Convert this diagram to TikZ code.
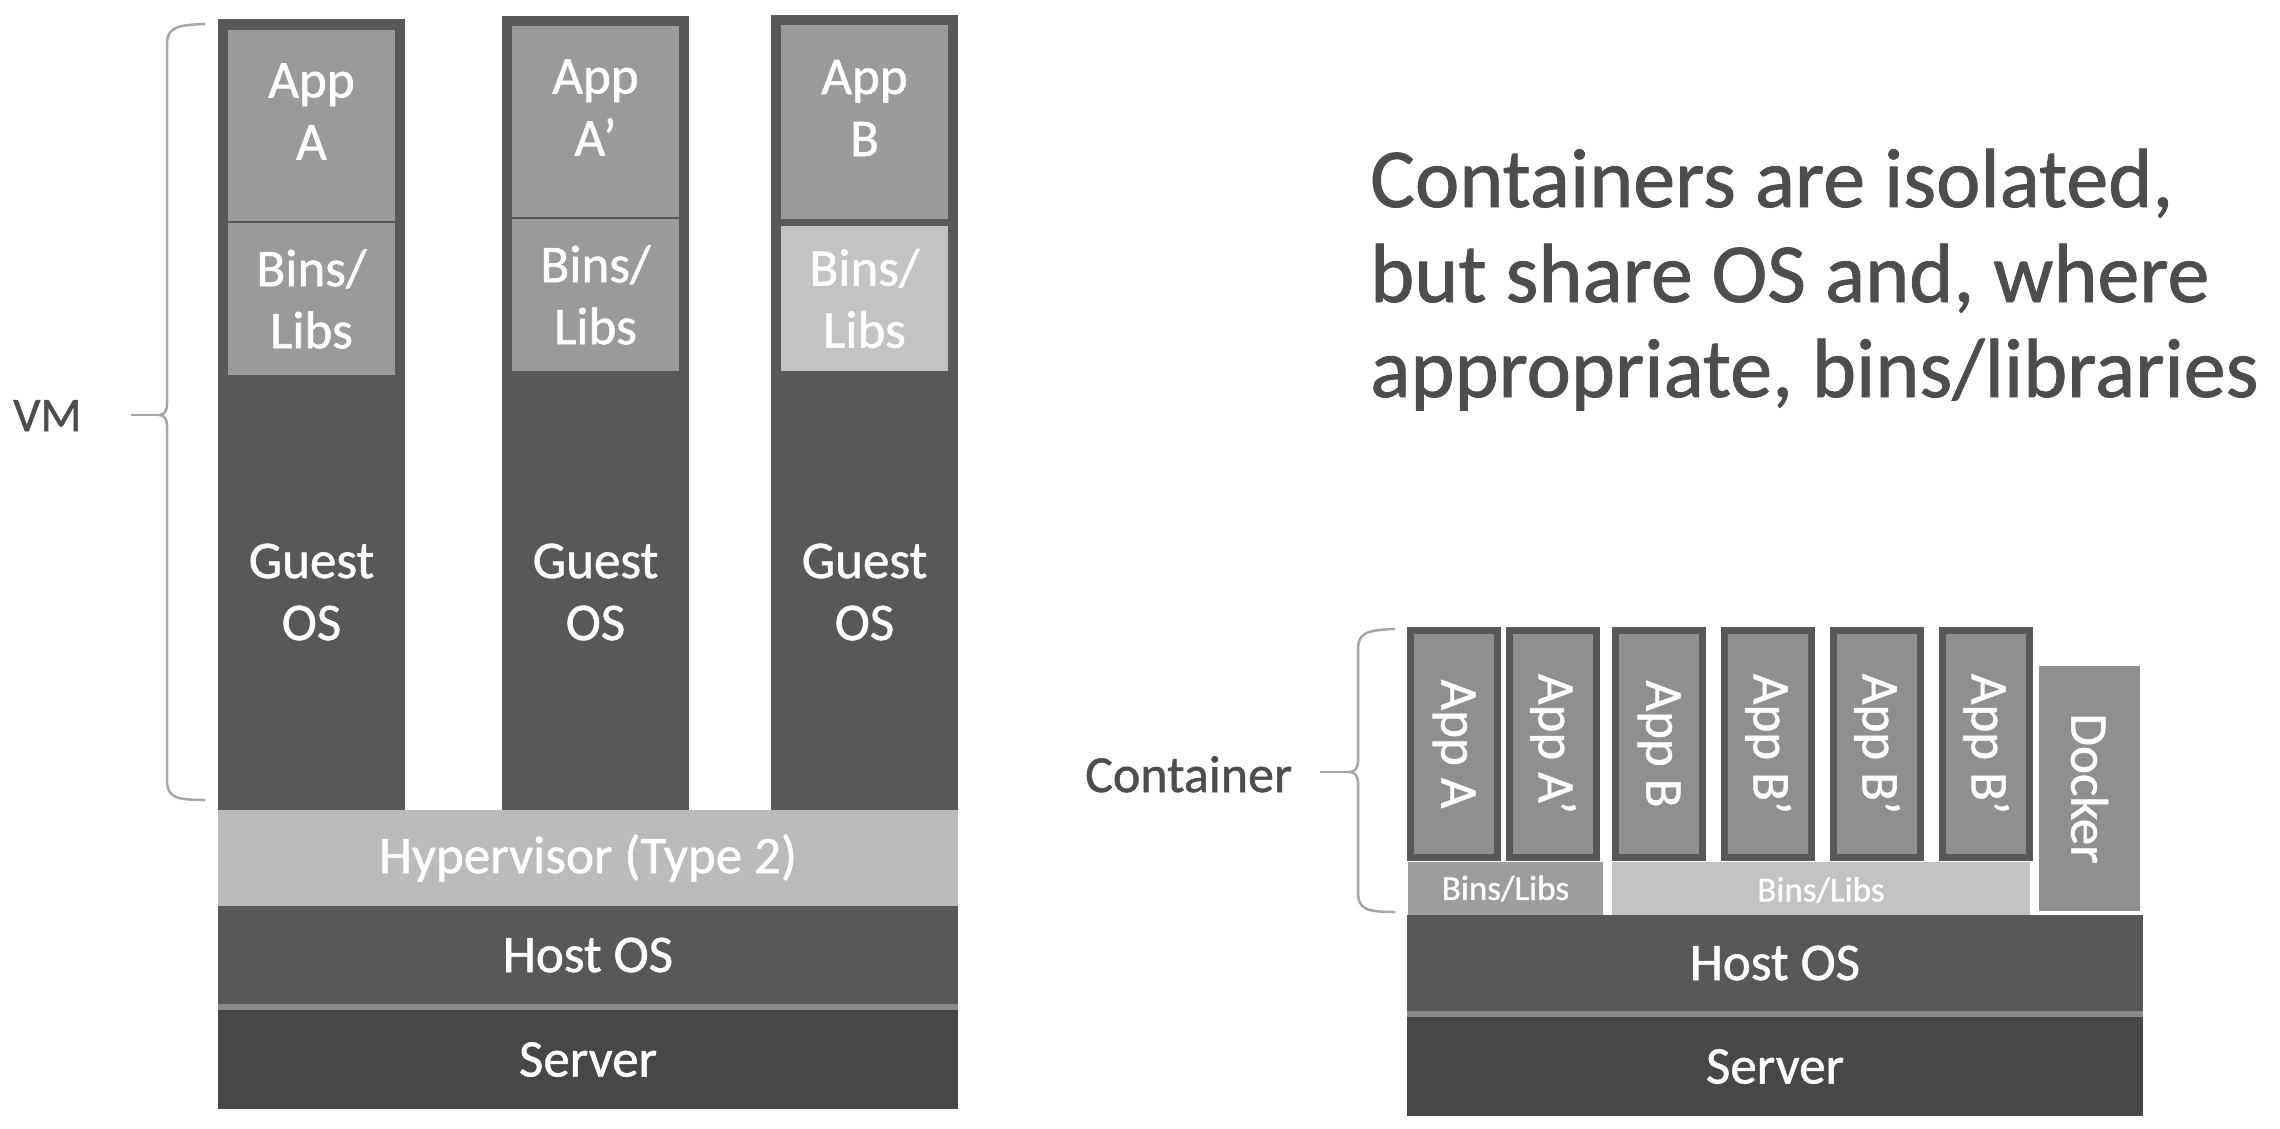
\documentclass[tikz,border=0pt]{standalone}
\usepackage{fontspec}
\setmainfont{Carlito}[FakeBold=1]

\definecolor{osgray}{HTML}{585858}
\definecolor{srvgray}{HTML}{474747}
\definecolor{appgray}{HTML}{9A9A9A}
\definecolor{libgray}{HTML}{C3C3C3}
\definecolor{hypgray}{HTML}{BBBBBB}
\definecolor{appmid}{HTML}{8F8F8F}
\definecolor{bingray}{HTML}{9D9D9D}
\definecolor{sepgray}{HTML}{8A8A8A}
\definecolor{msggray}{HTML}{4D4D4D}
\definecolor{bracegray}{HTML}{A6A6A6}

\newcommand\lblfont{\fontsize{53}{62}\selectfont}
\newcommand\msgfont{\fontsize{84}{95}\selectfont}

\tikzset{
    blk/.style={inner sep=0pt, outer sep=0pt, text=white, font=\lblfont, align=center},
    layer/.style={blk, anchor=north west},
    capp/.style={blk, rotate=-90, draw=osgray, line width=7, fill=appmid, minimum width=227, minimum height=87},
    brc/.style={draw=bracegray, line width=2.5},
    side/.style={anchor=base west, text=msggray, inner sep=0pt}
}

\begin{document}
\begin{tikzpicture}[x=1pt,y=-1pt]
        \useasboundingbox (0,0) rectangle (2280,1128);
        %% virtual machines
        \foreach \n/\x/\t/\at/\ab/\bt/\bb/\bc/\app in {1/218/19/30/221/223/375/appgray/{App\\A},2/502/16/26/217/219/371/appgray/{App\\A’},3/771/15/25/219/226/371/libgray/{App\\B}} {
            \node[layer, fill=osgray, minimum width=187, minimum height={810-\t}] (col\n) at (\x,\t) {};
            \node[layer, fill=appgray, minimum width=167, minimum height={\ab-\at}] (app\n) at (\x+10,\at) {};
            \node[blk] (apptxt\n) at ([yshift=14pt]app\n.center) {\app};
            \node[layer, fill=\bc, minimum width=167, minimum height={\bb-\bt}] (bins\n) at (\x+10,\bt) {Bins/\\Libs};
            \node[blk] (guest\n) at (\x+93.5,592) {Guest\\OS};
        }
        \node[layer, fill=hypgray, minimum width=740, minimum height=96] (hyp) at (218,810) {Hypervisor (Type 2)};
        \node[layer, fill=osgray, minimum width=740, minimum height=98] (vmhost) at (218,906) {Host OS};
        \fill[sepgray] (218,1004) rectangle (958,1010);
        \node[layer, fill=srvgray, minimum width=740, minimum height=99] (vmserver) at (218,1010) {Server};
        %% VM brace
        \node[side, font=\fontsize{48}{56}\selectfont] (vm) at (13,431) {VM};
        \coordinate (vmdash) at (131,415);
        \coordinate (vmtip) at (159,415);
        \draw[brc] (205,24) .. controls (175,25) and (167,28) .. (167,45) -- (167,405)
            .. controls (167,412) and (163,415) .. (vmtip) .. controls (163,415) and (167,418) .. (167,425)
            -- (167,780) .. controls (167,797) and (175,800) .. (205,800);
        \draw[brc] (vmdash) -- (vmtip);
        %% containers
        \foreach \n/\x/\app in {1/1407/App A,2/1506/App A’,3/1612/App B,4/1721/App B’,5/1830/App B’,6/1939/App B’}
            \node[capp] (capp\n) at (\x+47,744) {\app};
        \node[blk, fill=appmid, rotate=-90, minimum width=245, minimum height=101] (docker) at (2089.5,788.5) {Docker};
        \node[layer, fill=bingray, font=\fontsize{35}{40}\selectfont, minimum width=195, minimum height=53] (cbins1) at (1408,862) {Bins/Libs};
        \node[layer, fill=libgray, font=\fontsize{35}{40}\selectfont, minimum width=418, minimum height=56] (cbins2) at (1612,862) {Bins/Libs};
        \node[layer, fill=osgray, minimum width=736, minimum height=96] (chost) at (1407,915) {Host OS};
        \fill[sepgray] (1407,1011) rectangle (2143,1017);
        \node[layer, fill=srvgray, minimum width=736, minimum height=99] (cserver) at (1407,1017) {Server};
        %% container brace
        \node[side, font=\fontsize{52}{60}\selectfont] (ctr) at (1085,792) {Container};
        \coordinate (cdash) at (1320,772);
        \coordinate (ctip) at (1349,772);
        \draw[brc] (1395,629) .. controls (1366,630) and (1358,633) .. (1358,650) -- (1358,762)
            .. controls (1358,769) and (1354,772) .. (ctip) .. controls (1354,772) and (1358,775) .. (1358,782)
            -- (1358,892) .. controls (1358,909) and (1366,912) .. (1395,912);
        \draw[brc] (cdash) -- (ctip);
        %% message
        \foreach \y/\t [count=\i] in {207/{Containers are isolated,},302/{but share OS and, where},397/{appropriate, bins/libraries}}
            \node[side, font=\msgfont] (msg\i) at (1370,\y) {\t};
\end{tikzpicture}
\end{document}
